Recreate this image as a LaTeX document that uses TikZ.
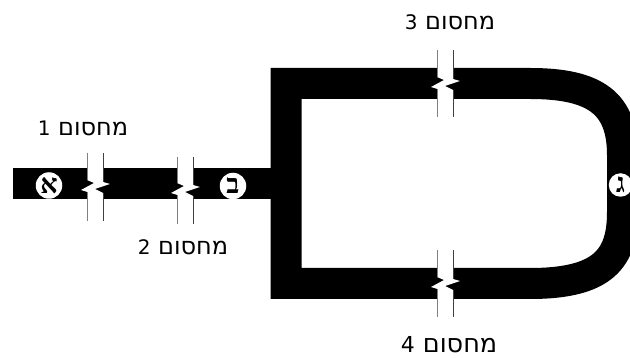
\documentclass[tikz,border=0pt]{standalone}
\usepackage{fontspec}
\TeXXeTstate=1
\newfontfamily\hebfont[Script=Hebrew]{DejaVu Sans}
\newfontfamily\hebserif[Script=Hebrew]{Liberation Serif}
\newcommand{\pipebreak}[5]{%
  \begin{scope}[shift={(#1,#2)}]
    \fill[white] (-8,-1) -- (-8,{12+#5}) -- (-1,{15+#5}) -- (-14,{22+#5}) -- (-7.5,{24+#5}) -- (-7.5,32)
      -- (8,32) -- (8,{25+#5}) -- (0,{21+#5}) -- (15,{16+#5}) -- (8,{14+#5}) -- (8,-1) -- cycle;
    \draw[breakline,gray] (-8,#3) -- (-8,{12+#5});
    \draw[breakline,gray] (-8,{24+#5}) -- (-8,#4);
    \draw[breakline,black!75] (8,#3) -- (8,{14+#5});
    \draw[breakline,black!75] (8,{25+#5}) -- (8,#4);
  \end{scope}}
\newcommand{\digitsize}[1]{{\fontsize{20}{20}\selectfont #1}}
\tikzset{
  pipe/.style={line width=31pt,black,line join=miter},
  breakline/.style={line width=1pt},
  marker/.style={circle,fill=white,minimum size=26.5pt,inner sep=0pt,font=\hebserif\bfseries\fontsize{27}{27}\selectfont},
  tag/.style={inner sep=0pt,font=\hebfont\fontsize{24}{24}\selectfont}
}
\begin{document}
\begin{tikzpicture}[x=1pt,y=-1pt]
  \clip (0,0) rectangle (630,358);
  \fill[white] (0,0) rectangle (630,358);
  \draw[pipe] (13,183.5) -- (286,183.5);
  \draw[pipe] (530,83.5) -- (286,83.5) -- (286,283.5) -- (530,283.5)
    .. controls (604,283.5) and (622.5,258) .. (622.5,212)
    -- (622.5,155)
    .. controls (622.5,103) and (595,83.5) .. (530,83.5) -- cycle;
  \pipebreak{95}{168}{-15}{53}{0}
  \pipebreak{185}{168}{-11}{56}{3}
  \pipebreak{445}{68}{-18}{49}{-3}
  \pipebreak{445}{268}{-18}{49}{-3}
  \node[marker] (alef) at (49,185.5) {\beginR א\endR};
  \node[marker] (bet) at (233,186) {\beginR ב\endR};
  \node[marker,minimum size=23.5pt] (gimel) at (620.5,185) {\beginR ג\endR};
  \node[tag] (m1) at (83,128) {\beginR מחסום \digitsize{1}\endR};
  \node[tag] (m2) at (183,247) {\beginR מחסום \digitsize{2}\endR};
  \node[tag] (m3) at (450,22) {\beginR מחסום \digitsize{3}\endR};
  \node[tag,font=\hebfont\fontsize{25.5}{25.5}\selectfont] (m4) at (449,344.5) {\beginR מחסום {\fontsize{22}{22}\selectfont 4}\endR};
\end{tikzpicture}
\end{document}
